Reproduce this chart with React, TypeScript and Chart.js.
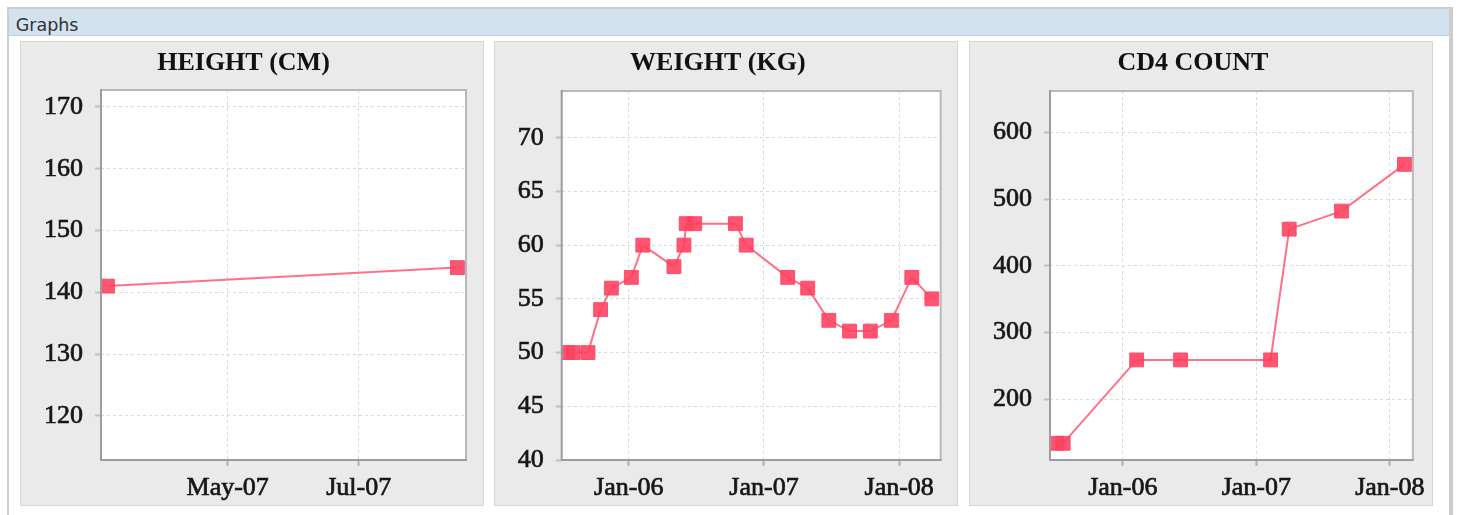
import React, { useEffect, useRef } from "react";
import { Chart, registerables } from "chart.js";

Chart.register(...registerables);

// ---------- data ----------
const heightDates = ["2007-03-06", "2007-08-16"];
const heightValues = [141, 144];
const heightTickDates = ["2007-05-01", "2007-07-01"];
const heightTickLabels = ["May-07", "Jul-07"];

const weightDates = [
  "2005-07-19", "2005-08-04", "2005-09-13", "2005-10-17", "2005-11-15",
  "2006-01-08", "2006-02-08", "2006-05-03", "2006-05-30", "2006-06-05",
  "2006-06-28", "2006-10-16", "2006-11-14", "2007-03-06", "2007-04-29",
  "2007-06-25", "2007-08-20", "2007-10-15", "2007-12-11", "2008-02-04",
  "2008-03-29",
];
const weightValues = [50, 50, 50, 54, 56, 57, 60, 58, 60, 62, 62, 62, 60, 57, 56, 53, 52, 52, 53, 57, 55];
const weightTickDates = ["2006-01-01", "2007-01-01", "2008-01-01"];
const weightTickLabels = ["Jan-06", "Jan-07", "Jan-08"];

const cd4Dates = [
  "2005-07-04", "2005-07-22", "2006-02-08", "2006-06-08",
  "2007-02-09", "2007-04-01", "2007-08-22", "2008-02-10",
];
const cd4Values = [134, 134, 259, 259, 259, 455, 482, 552];
const cd4TickDates = ["2006-01-01", "2007-01-01", "2008-01-01"];
const cd4TickLabels = ["Jan-06", "Jan-07", "Jan-08"];

const titles = ["HEIGHT (CM)", "WEIGHT (KG)", "CD4 COUNT"];

// ---------- helpers ----------
const toDay = (s: string) => {
  const [y, m, d] = s.split("-").map(Number);
  return Date.UTC(y, m - 1, d) / 86400000;
};

type Spec = {
  title: string;
  dates: string[];
  values: number[];
  tickDates: string[];
  tickLabels: string[];
  xMin: string;
  xMax: string;
  yMin: number;
  yMax: number;
  yStep: number;
  yWidth: number;
  padRight: number;
  titlePadBottom: number;
};

const SERIF = "'Liberation Serif', 'Times New Roman', serif";

const framePlugin = {
  id: "plotFrame",
  beforeDraw(chart: any) {
    const a = chart.chartArea;
    const ctx = chart.ctx;
    ctx.save();
    ctx.fillStyle = "#ffffff";
    ctx.fillRect(a.left, a.top, a.right - a.left, a.bottom - a.top);
    ctx.restore();
  },
  afterDraw(chart: any) {
    const a = chart.chartArea;
    const ctx = chart.ctx;
    ctx.save();
    ctx.lineWidth = 2;
    ctx.strokeStyle = "#b8b8b8";
    ctx.beginPath();
    ctx.moveTo(a.left, a.top);
    ctx.lineTo(a.right, a.top);
    ctx.lineTo(a.right, a.bottom);
    ctx.stroke();
    ctx.strokeStyle = "#9c9c9c";
    ctx.beginPath();
    ctx.moveTo(a.left, a.top - 1);
    ctx.lineTo(a.left, a.bottom);
    ctx.lineTo(a.right + 1, a.bottom);
    ctx.stroke();
    ctx.restore();
  },
};

function LineChart({ spec }: { spec: Spec }) {
  const ref = useRef<HTMLCanvasElement | null>(null);
  useEffect(() => {
    if (!ref.current) return;
    const data = spec.dates.map((d, i) => ({ x: toDay(d), y: spec.values[i] }));
    const tickVals = spec.tickDates.map(toDay);
    const chart = new Chart(ref.current, {
      type: "line",
      data: {
        datasets: [
          {
            data,
            borderColor: "rgba(255, 96, 122, 0.9)",
            borderWidth: 2,
            tension: 0,
            pointStyle: "rect",
            pointRadius: 9.8,
            pointBorderWidth: 1,
            pointBackgroundColor: "rgba(255, 66, 98, 0.9)",
            pointBorderColor: "rgba(255, 66, 98, 0.9)",
            clip: 0,
          } as any,
        ],
      },
      options: {
        animation: false,
        responsive: false,
        events: [],
        layout: { padding: { left: 0, right: spec.padRight, top: 0, bottom: 0 } },
        plugins: {
          legend: { display: false },
          tooltip: { enabled: false },
          title: {
            display: true,
            text: spec.title,
            color: "#111111",
            font: { family: SERIF, size: 26, weight: "bold" },
            padding: { top: 5.5, bottom: spec.titlePadBottom - 1.5 },
          },
        },
        scales: {
          x: {
            type: "linear",
            min: toDay(spec.xMin),
            max: toDay(spec.xMax),
            afterBuildTicks: (s: any) => {
              s.ticks = tickVals.map((v) => ({ value: v }));
            },
            afterFit: (s: any) => {
              s.height = 45;
            },
            ticks: {
              autoSkip: false,
              maxRotation: 0,
              minRotation: 0,
              padding: 6.5,
              color: "#161616",
              textStrokeColor: "#161616",
              textStrokeWidth: 0.7,
              font: { family: SERIF, size: 26, weight: "normal" },
              callback: (_v: any, i: number) => spec.tickLabels[i],
            },
            grid: {
              color: "#d9d9d9",
              lineWidth: 1,
              drawTicks: true,
              tickLength: 6,
              tickColor: "#b0b0b0",
              tickWidth: 2,
            },
            border: { display: false, dash: [3, 3] },
          },
          y: {
            type: "linear",
            min: spec.yMin,
            max: spec.yMax,
            afterBuildTicks: (s: any) => {
              const out: any[] = [];
              const step = spec.yStep;
              for (let v = Math.ceil(spec.yMin / step) * step; v <= spec.yMax + 1e-9; v += step) {
                out.push({ value: Math.round(v * 1000) / 1000 });
              }
              s.ticks = out;
            },
            afterFit: (s: any) => {
              s.width = spec.yWidth;
            },
            ticks: {
              stepSize: spec.yStep,
              padding: 12,
              color: "#161616",
              textStrokeColor: "#161616",
              textStrokeWidth: 0.7,
              font: { family: SERIF, size: 26, weight: "normal" },
            },
            grid: {
              color: "#d9d9d9",
              lineWidth: 1,
              drawTicks: true,
              tickLength: 6,
              tickColor: "#c0c0c0",
              tickWidth: 2,
            },
            border: { display: false, dash: [3, 3] },
          },
        },
      },
      plugins: [framePlugin],
    } as any);
    return () => chart.destroy();
  }, [spec]);
  return <canvas ref={ref} width={462} height={463} style={{ display: "block" }} />;
}

const specs: Spec[] = [
  {
    title: titles[0],
    dates: heightDates,
    values: heightValues,
    tickDates: heightTickDates,
    tickLabels: heightTickLabels,
    xMin: "2007-03-03",
    xMax: "2007-08-20",
    yMin: 112.85,
    yMax: 172.75,
    yStep: 10,
    yWidth: 80,
    padRight: 17,
    titlePadBottom: 12.8,
  },
  {
    title: titles[1],
    dates: weightDates,
    values: weightValues,
    tickDates: weightTickDates,
    tickLabels: weightTickLabels,
    xMin: "2005-07-04",
    xMax: "2008-04-22",
    yMin: 40,
    yMax: 74.35,
    yStep: 5,
    yWidth: 66.7,
    padRight: 16.3,
    titlePadBottom: 13.8,
  },
  {
    title: titles[2],
    dates: cd4Dates,
    values: cd4Values,
    tickDates: cd4TickDates,
    tickLabels: cd4TickLabels,
    xMin: "2005-06-16",
    xMax: "2008-03-04",
    yMin: 109,
    yMax: 662,
    yStep: 100,
    yWidth: 80,
    padRight: 16.3,
    titlePadBottom: 13.8,
  },
];

const panelLefts = [20, 494, 969];

export default function App() {
  return (
    <div
      style={{
        position: "fixed",
        left: 0,
        top: 0,
        width: 1462,
        height: 515,
        overflow: "hidden",
        background: "#ffffff",
      }}
    >
      <div
        style={{
          position: "absolute",
          left: 7,
          top: 7,
          width: 1440,
          height: 520,
          borderLeft: "2px solid #cdcdcd",
          borderTop: "2px solid #cdcdcd",
          borderRight: "4px solid #cdcdcd",
          background: "#ffffff",
        }}
      />
      <div
        style={{
          position: "absolute",
          left: 9,
          top: 9,
          width: 1440,
          height: 26,
          background: "#d3e2ef",
          borderBottom: "1px solid #bfd1e2",
        }}
      />
      <div
        style={{
          position: "absolute",
          left: 15.7,
          top: 14.5,
          fontFamily: "'DejaVu Sans', sans-serif",
          fontSize: 17.5,
          lineHeight: "normal",
          color: "#333333",
          whiteSpace: "nowrap",
        }}
      >
        Graphs
      </div>
      {specs.map((s, i) => (
        <div
          key={i}
          style={{
            position: "absolute",
            left: panelLefts[i],
            top: 41,
            width: 464,
            height: 465,
            boxSizing: "border-box",
            border: "1px solid #d5d5d5",
            background: "#eaeaea",
          }}
        >
          <LineChart spec={s} />
        </div>
      ))}
    </div>
  );
}
